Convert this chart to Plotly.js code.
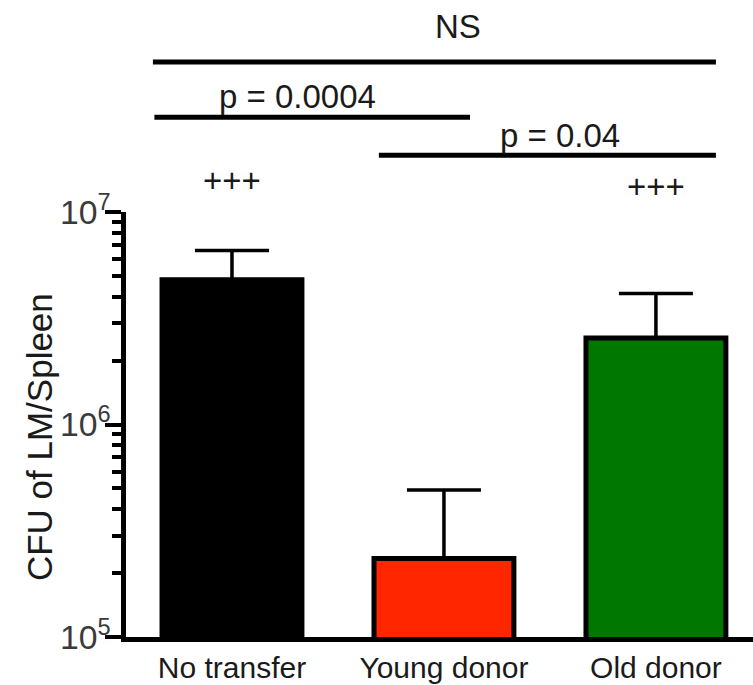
<!DOCTYPE html>
<html><head><meta charset="utf-8">
<script src="https://cdn.plot.ly/plotly-3.0.1.min.js"></script>
<style>html,body{margin:0;padding:0;overflow:hidden;background:#fff;}</style>
</head><body><div id="chart" style="width:753px;height:685px;"></div>
<script>
var categories = ["No transfer", "Young donor", "Old donor"];
var meanCFU = [4.8e6, 2.34e5, 2.55e6];
var upperCFU = [6.59e6, 4.92e5, 4.14e6];
var barColors = ["#000000", "#FF2600", "#007800"];
var plusLabels = ["+++", "", "+++"];
var yTitle = "CFU of LM/Spleen";
// comparison brackets: start / end (category units), label
var compStart = [-0.373, -0.366, 0.693];
var compEnd = [2.283, 1.123, 2.283];
var compLabels = ["NS", "p = 0.0004", "p = 0.04"];
var compLabelX = [1.064, 0.307, 1.547];

var errPlus = meanCFU.map(function(v, i){ return upperCFU[i] - v; });
var errMinus = meanCFU.map(function(){ return 0; });

var FONT = "Liberation Sans, Arial, sans-serif";
var trace = {
  type: "bar", x: [0,1,2], y: meanCFU,
  marker: {color: barColors, line: {color: "#000", width: 5}},
  width: 0.66,
  error_y: {type: "data", symmetric: false, array: errPlus, arrayminus: errMinus,
            color: "#000", thickness: 3.5, width: 37},
  hoverinfo: "none"
};

var lineY = [1.353, 1.2228, 1.1334];
var textY = [1.436, 1.2706, 1.181];
var plusY = [1.075, 1.0, 1.059];
var shapes = [], annotations = [];
for (var i = 0; i < compLabels.length; i++) {
  shapes.push({type: "line", xref: "x", yref: "paper", x0: compStart[i], x1: compEnd[i],
               y0: lineY[i], y1: lineY[i], line: {color: "#000", width: 5}});
  annotations.push({xref: "x", yref: "paper", x: compLabelX[i], y: textY[i], text: compLabels[i],
               showarrow: false, xanchor: "center", yanchor: "middle",
               font: {family: FONT, size: 33, color: "#1a1a1a"}});
}
for (var j = 0; j < plusLabels.length; j++) {
  if (!plusLabels[j]) continue;
  annotations.push({xref: "x", yref: "paper", x: j, y: plusY[j], text: plusLabels[j],
               showarrow: false, xanchor: "center", yanchor: "middle",
               font: {family: FONT, size: 33, color: "#1a1a1a"}});
}
annotations.push({xref: "paper", yref: "paper", x: -0.139, y: 0.47, text: yTitle, textangle: -90,
               showarrow: false, xanchor: "center", yanchor: "middle",
               font: {family: FONT, size: 35, color: "#1a1a1a"}});

var layout = {
  width: 753, height: 685,
  margin: {l: 126, r: 0, t: 212, b: 48, pad: 0},
  paper_bgcolor: "#fff", plot_bgcolor: "#fff",
  showlegend: false,
  font: {family: FONT, color: "#1a1a1a"},
  xaxis: {
    range: [-0.5, 2.458], tickmode: "array", tickvals: [0,1,2], ticktext: categories,
    showline: true, linecolor: "#000", linewidth: 5, ticks: "", showgrid: false, zeroline: false,
    tickfont: {size: 30, color: "#1a1a1a"}, automargin: false, fixedrange: true
  },
  yaxis: {
    type: "log", range: [5, 7], dtick: 1, exponentformat: "power",
    showline: true, linecolor: "#000", linewidth: 5,
    ticks: "outside", ticklen: 16, tickwidth: 4, tickcolor: "#000",
    minor: {dtick: "D1", ticks: "outside", ticklen: 9, tickwidth: 4, tickcolor: "#000", showgrid: false},
    showgrid: false, zeroline: false, ticklabelstandoff: -11,
    tickfont: {size: 27, color: "#3a3a3a"}, automargin: false
  },
  shapes: shapes, annotations: annotations
};

Plotly.newPlot("chart", [trace], layout, {displayModeBar: false, staticPlot: true});
</script></body></html>
